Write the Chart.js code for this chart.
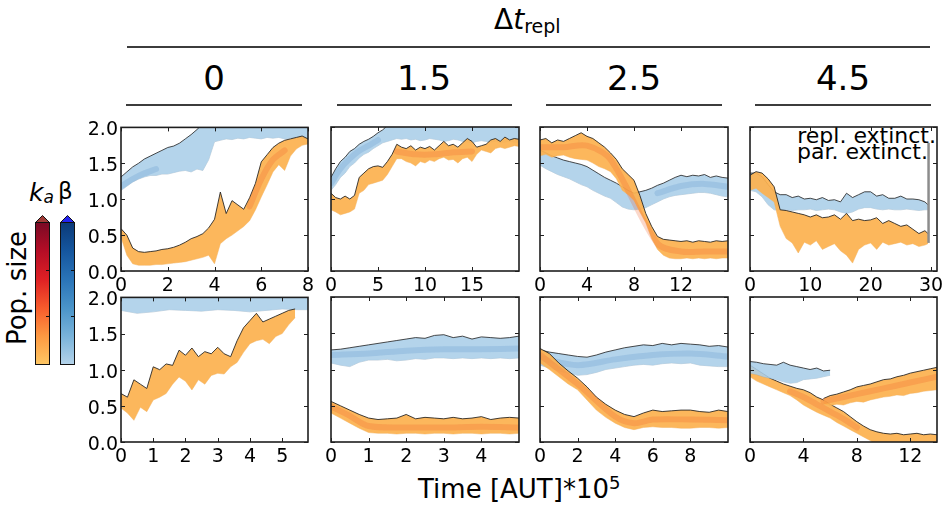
<!DOCTYPE html>
<html>
<head>
<meta charset="utf-8">
<script src="https://cdn.jsdelivr.net/npm/chart.js@4.4.0/dist/chart.umd.min.js"></script>
<style>
body { margin:0; background:#fff; width:948px; height:508px; position:relative; overflow:hidden; font-family:"DejaVu Sans", sans-serif; color:#000; }
.abs { position:absolute; white-space:nowrap; }
canvas { position:absolute; }
.hline { position:absolute; height:2px; background:#3c3c3c; }
</style>
</head>
<body>

<div class="abs" style="left:494px; top:6px; font-size:28px; line-height:28px;">Δ<i>t</i><span style="font-size:19px; position:relative; top:4px;">repl</span></div>
<div class="hline" style="left:127px; top:46px; width:803px;"></div>

<div class="abs" style="left:114px; top:61px; width:200px; text-align:center; font-size:34px; line-height:34px;">0</div>
<div class="abs" style="left:324px; top:61px; width:200px; text-align:center; font-size:34px; line-height:34px;">1.5</div>
<div class="abs" style="left:534px; top:61px; width:200px; text-align:center; font-size:34px; line-height:34px;">2.5</div>
<div class="abs" style="left:743px; top:61px; width:200px; text-align:center; font-size:34px; line-height:34px;">4.5</div>
<div class="hline" style="left:126px; top:104px; width:176px;"></div>
<div class="hline" style="left:337px; top:104px; width:175px;"></div>
<div class="hline" style="left:546px; top:104px; width:176px;"></div>
<div class="hline" style="left:755px; top:104px; width:176px;"></div>

<div class="abs" style="left:-83px; top:275px; width:200px; text-align:center; font-size:26px; line-height:26px; transform:rotate(-90deg);">Pop. size</div>

<div class="abs" style="left:29px; top:180px; font-size:25px; line-height:25px;"><i>k</i><span style="font-size:17px; position:relative; top:2px;"><i>a</i></span></div>
<div class="abs" style="left:58px; top:180px; font-size:23px; line-height:23px;">β</div>

<svg class="abs" style="left:0; top:0;" width="100" height="400">
  <defs>
    <linearGradient id="gka" x1="0" y1="0" x2="0" y2="1">
      <stop offset="0" stop-color="#7a0a25"/>
      <stop offset="0.2" stop-color="#b50d26"/>
      <stop offset="0.4" stop-color="#de2024"/>
      <stop offset="0.6" stop-color="#f75b2c"/>
      <stop offset="0.8" stop-color="#fd9942"/>
      <stop offset="1" stop-color="#fec764"/>
    </linearGradient>
    <linearGradient id="gbeta" x1="0" y1="0" x2="0" y2="1">
      <stop offset="0" stop-color="#0b3a78"/>
      <stop offset="0.2" stop-color="#15569e"/>
      <stop offset="0.4" stop-color="#2a74b8"/>
      <stop offset="0.6" stop-color="#4a94c9"/>
      <stop offset="0.8" stop-color="#79b3da"/>
      <stop offset="1" stop-color="#b4d3ea"/>
    </linearGradient>
  </defs>
  <rect x="35.5" y="222.5" width="14" height="142" fill="url(#gka)" stroke="#111" stroke-width="1"/>
  <polygon points="35.5,222.5 49.5,222.5 42.5,215.5" fill="#a23b36" stroke="#111" stroke-width="1"/>
  <rect x="60.5" y="222.5" width="14" height="142" fill="url(#gbeta)" stroke="#111" stroke-width="1"/>
  <polygon points="60.5,222.5 74.5,222.5 67.5,215.5" fill="#2424f0" stroke="#111" stroke-width="1"/>
  <line x1="46" y1="270.5" x2="49.5" y2="270.5" stroke="#111"/>
  <line x1="46" y1="316.5" x2="49.5" y2="316.5" stroke="#111"/>
  <line x1="71" y1="270.5" x2="74.5" y2="270.5" stroke="#111"/>
  <line x1="71" y1="316.5" x2="74.5" y2="316.5" stroke="#111"/>
</svg>

<div class="abs" style="left:418px; top:476px; font-size:26px; line-height:26px;">Time [AUT]*10<span style="font-size:18px; position:relative; top:-9px;">5</span></div>

<div class="abs" style="left:736px; top:125px; width:200px; text-align:right; font-size:22px; line-height:22px;">repl. extinct.</div>
<div class="abs" style="left:728px; top:141px; width:200px; text-align:right; font-size:22px; line-height:22px;">par. extinct.</div>

<script>
// ---- data (time in units of 1e5 AUT, population size) ----
const p1T = [0,0.25,0.5,0.75,1,1.25,1.5,1.75,2,2.25,2.5,2.75,3,3.25,3.5,3.75,4,4.25,4.5,4.75,5,5.25,5.5,5.75,6,6.25,6.5,6.75,7,7.25,7.5,7.75,8];
const p1BlueHi = [1.31,1.38,1.45,1.50,1.56,1.60,1.64,1.68,1.72,1.74,1.78,1.84,1.90,1.97,2.05,2.05,2.05,2.05,2.05,2.05,2.05,2.05,2.05,2.05,2.05,2.05,2.05,2.05,2.05,2.05,2.05,2.05,2.05];
const p1BlueLo = [1.12,1.18,1.24,1.28,1.31,1.33,1.33,1.35,1.35,1.37,1.39,1.40,1.38,1.42,1.40,1.55,1.80,1.82,1.84,1.83,1.85,1.84,1.86,1.85,1.84,1.86,1.85,1.86,1.84,1.85,1.86,1.85,1.84];
const p1BlueCoreT = [0,0.5,1,1.5];
const p1BlueCore = [1.18,1.28,1.36,1.42];
const p1OrangeHi = [0.59,0.50,0.32,0.27,0.26,0.27,0.28,0.30,0.31,0.33,0.36,0.40,0.45,0.48,0.52,0.60,0.72,1.10,0.80,0.98,0.92,0.86,1.02,1.22,1.52,1.62,1.72,1.78,1.82,1.84,1.86,1.88,1.84];
const p1OrangeLo = [0.47,0.22,0.10,0.08,0.08,0.08,0.09,0.09,0.10,0.11,0.12,0.13,0.15,0.17,0.19,0.22,0.10,0.38,0.45,0.50,0.56,0.62,0.70,0.85,1.03,1.20,1.38,1.48,1.40,1.60,1.70,1.75,1.77];
const p1OrangeCoreT = [5.5,6,6.5,7];
const p1OrangeCore = [0.90,1.28,1.55,1.68];

const p2T = [0,0.5,1,1.5,2,2.5,3,3.5,4,4.5,5,5.5,6,6.5,7,7.5,8,8.5,9,9.5,10,10.5,11,11.5,12,12.5,13,13.5,14,14.5,15,15.5,16,16.5,17,17.5,18,18.5,19,19.5,20];
const p2BlueHi = [1.30,1.42,1.52,1.58,1.66,1.70,1.76,1.80,1.83,1.87,1.92,1.96,2.02,2.05,2.05,2.05,2.05,2.05,2.05,2.05,2.05,2.05,2.05,2.05,2.05,2.05,2.05,2.05,2.05,2.05,2.05,2.05,2.05,2.05,2.05,2.05,2.05,2.05,2.05,2.05,2.05];
const p2BlueLo = [1.12,1.20,1.30,1.36,1.45,1.50,1.57,1.62,1.65,1.70,1.74,1.78,1.80,1.82,1.84,1.83,1.84,1.82,1.83,1.81,1.82,1.84,1.83,1.82,1.80,1.81,1.83,1.82,1.80,1.79,1.78,1.80,1.81,1.80,1.79,1.80,1.78,1.79,1.80,1.79,1.78];
const p2BlueCoreT = [0,1,2,3,4,5];
const p2BlueCore = [1.22,1.42,1.56,1.67,1.74,1.82];
const p2OrangeHi = [1.08,1.02,1.00,1.04,1.00,1.05,1.30,1.36,1.42,1.45,1.46,1.44,1.52,1.62,1.76,1.72,1.70,1.74,1.68,1.72,1.70,1.73,1.68,1.74,1.80,1.74,1.76,1.72,1.78,1.84,1.80,1.72,1.74,1.76,1.82,1.84,1.80,1.86,1.82,1.84,1.83];
const p2OrangeLo = [0.85,0.82,0.78,0.80,0.82,0.86,1.08,1.12,1.20,1.22,1.24,1.26,1.34,1.45,1.56,1.56,1.52,1.50,1.46,1.52,1.50,1.54,1.52,1.56,1.58,1.54,1.55,1.50,1.56,1.58,1.52,1.62,1.68,1.66,1.64,1.70,1.72,1.70,1.72,1.74,1.73];
const p2OrangeCoreT = [7,9,11,13,15];
const p2OrangeCore = [1.66,1.62,1.62,1.65,1.66];

const p3T = [0,0.5,1,1.5,2,2.5,3,3.5,4,4.5,5,5.5,6,6.5,7,7.5,8,8.5,9,9.5,10,10.5,11,11.5,12,12.5,13,13.5,14,14.5,15,15.5,16];
const p3BlueHi = [1.68,1.64,1.60,1.57,1.54,1.52,1.50,1.48,1.45,1.40,1.35,1.30,1.26,1.22,1.17,1.12,1.08,1.10,1.12,1.15,1.19,1.22,1.26,1.30,1.33,1.31,1.33,1.32,1.34,1.30,1.32,1.30,1.29];
const p3BlueLo = [1.47,1.42,1.38,1.34,1.31,1.28,1.24,1.20,1.17,1.12,1.08,1.04,1.01,0.95,0.89,0.86,0.85,0.86,0.88,0.92,0.96,1.00,1.03,1.05,1.06,1.07,1.08,1.09,1.09,1.08,1.06,1.04,1.03];
const p3BlueCoreT = [10,12,14,16];
const p3BlueCore = [1.08,1.18,1.21,1.17];
const p3OrangeHi = [1.82,1.84,1.78,1.82,1.80,1.84,1.88,1.92,1.87,1.84,1.78,1.72,1.64,1.55,1.42,1.34,1.26,1.05,0.80,0.62,0.48,0.44,0.43,0.42,0.41,0.42,0.40,0.42,0.41,0.40,0.42,0.41,0.42];
const p3OrangeLo = [1.60,1.62,1.58,1.60,1.61,1.58,1.56,1.55,1.54,1.50,1.45,1.42,1.38,1.28,1.12,1.06,0.98,0.82,0.67,0.45,0.30,0.22,0.18,0.17,0.17,0.18,0.17,0.18,0.17,0.18,0.17,0.18,0.18];
const p3OrangeCoreT = [0,2,4,6,10,12,14,16];
const p3OrangeCore = [1.72,1.72,1.74,1.55,0.38,0.27,0.27,0.27];

const p4T = [0,1,2,3,4,5,6,7,8,9,10,11,12,13,14,15,16,17,18,19,20,21,22,23,24,25,26,27,28,29,29.5];
const p4BlueHi = [1.36,1.36,1.31,1.20,1.10,1.06,1.06,1.02,1.04,1.00,1.01,0.99,1.02,0.98,0.99,0.96,1.08,1.02,1.06,1.10,1.10,1.04,1.06,1.01,1.01,1.04,1.00,1.00,0.99,0.96,0.92];
const p4BlueLo = [1.12,1.10,1.03,0.92,0.85,0.84,0.85,0.84,0.85,0.85,0.86,0.84,0.85,0.86,0.85,0.82,0.80,0.82,0.86,0.88,0.88,0.86,0.85,0.86,0.85,0.85,0.86,0.85,0.84,0.85,0.85];
const p4OrangeHi = [1.33,1.38,1.36,1.28,1.17,0.85,0.84,0.82,0.80,0.78,0.75,0.78,0.74,0.75,0.78,0.72,0.80,0.70,0.72,0.70,0.71,0.74,0.66,0.70,0.66,0.62,0.64,0.58,0.52,0.56,0.52];
const p4OrangeLo = [1.12,1.15,1.08,1.02,0.96,0.62,0.45,0.39,0.25,0.40,0.36,0.42,0.30,0.34,0.38,0.28,0.22,0.11,0.30,0.36,0.39,0.30,0.40,0.36,0.38,0.40,0.36,0.38,0.34,0.36,0.38];
const p4ExtinctT = [29.6,29.6];
const p4ExtinctY = [0.39,1.78];

const p5BlueT = [0,0.5,1,1.5,2,2.5,3,3.5,4,4.5,5,5.5,5.8];
const p5BlueHi = [2.05,2.05,2.05,2.05,2.05,2.05,2.05,2.05,2.05,2.05,2.05,2.05,2.05];
const p5BlueLo = [1.82,1.78,1.80,1.83,1.82,1.81,1.83,1.82,1.80,1.82,1.84,1.83,1.83];
const p5OrangeT = [0,0.2,0.4,0.6,0.8,1,1.2,1.4,1.6,1.8,2,2.2,2.4,2.6,2.8,3,3.2,3.4,3.6,3.8,4,4.2,4.4,4.6,4.8,5,5.2,5.4];
const p5OrangeHi = [0.67,0.62,0.86,0.80,0.74,1.04,1.00,1.08,1.06,1.27,1.20,1.30,1.18,1.25,1.22,1.31,1.22,1.18,1.40,1.58,1.68,1.78,1.66,1.70,1.74,1.78,1.82,1.84];
const p5OrangeLo = [0.47,0.40,0.30,0.48,0.42,0.58,0.62,0.67,0.80,0.90,0.84,0.72,0.86,0.80,0.92,0.95,0.94,1.04,1.10,1.24,1.36,1.40,1.42,1.36,1.46,1.50,1.62,1.72];

const p6T = [0,0.25,0.5,0.75,1,1.25,1.5,1.75,2,2.25,2.5,2.75,3,3.25,3.5,3.75,4,4.25,4.5,4.75,5];
const p6BlueHi = [1.27,1.28,1.30,1.32,1.34,1.36,1.38,1.40,1.42,1.44,1.43,1.47,1.48,1.44,1.46,1.42,1.45,1.44,1.43,1.44,1.46];
const p6BlueLo = [1.09,1.06,1.04,1.10,1.13,1.13,1.14,1.12,1.13,1.15,1.14,1.16,1.16,1.15,1.16,1.15,1.16,1.15,1.16,1.15,1.16];
const p6BlueCoreT = [0,1,2,3,4,5];
const p6BlueCore = [1.20,1.22,1.26,1.28,1.28,1.29];
const p6OrangeHi = [0.56,0.50,0.44,0.38,0.33,0.31,0.32,0.33,0.38,0.32,0.34,0.33,0.32,0.34,0.32,0.33,0.35,0.31,0.33,0.34,0.33];
const p6OrangeLo = [0.40,0.33,0.26,0.19,0.13,0.12,0.12,0.11,0.12,0.12,0.11,0.12,0.12,0.11,0.12,0.12,0.11,0.12,0.12,0.11,0.12];
const p6OrangeCoreT = [0,0.5,1,2,3,4,5];
const p6OrangeCore = [0.49,0.36,0.22,0.20,0.20,0.21,0.20];

const p7T = [0,0.5,1,1.5,2,2.5,3,3.5,4,4.5,5,5.5,6,6.5,7,7.5,8,8.5,9,9.5,10];
const p7BlueHi = [1.27,1.24,1.22,1.20,1.18,1.17,1.20,1.24,1.27,1.30,1.32,1.34,1.33,1.36,1.34,1.36,1.35,1.34,1.32,1.33,1.31];
const p7BlueLo = [1.06,1.02,0.98,0.95,0.92,0.93,0.96,1.00,1.02,1.04,1.06,1.07,1.06,1.08,1.09,1.08,1.09,1.06,1.05,1.04,1.04];
const p7BlueCoreT = [0,2,4,6,8,10];
const p7BlueCore = [1.16,1.06,1.14,1.20,1.22,1.18];
const p7OrangeHi = [1.29,1.22,1.09,0.98,0.88,0.76,0.62,0.52,0.44,0.38,0.35,0.40,0.44,0.42,0.43,0.44,0.44,0.42,0.41,0.44,0.42];
const p7OrangeLo = [1.09,1.00,0.90,0.80,0.72,0.58,0.44,0.34,0.26,0.20,0.17,0.20,0.21,0.20,0.20,0.19,0.19,0.20,0.20,0.19,0.20];
const p7OrangeCoreT = [0,2,4,5,6,8,10];
const p7OrangeCore = [1.20,0.80,0.35,0.26,0.31,0.31,0.30];

const p8BlueT = [0,0.5,1,1.5,2,2.5,3,3.5,4,4.5,5,5.5,6];
const p8BlueHi = [1.11,1.10,1.08,1.07,1.06,1.10,1.06,1.04,1.02,1.00,1.02,0.98,0.99];
const p8BlueLo = [0.95,0.93,0.90,0.88,0.86,0.83,0.81,0.82,0.86,0.87,0.88,0.90,0.92];
const p8OrangeT = [0,0.5,1,1.5,2,2.5,3,3.5,4,4.5,5,5.5,6,6.5,7,7.5,8,8.5,9,9.5,10,10.5,11,11.5,12,12.5,13,13.5,14];
const p8OrangeHi = [1.06,1.00,0.94,0.88,0.84,0.80,0.77,0.74,0.72,0.68,0.62,0.58,0.52,0.47,0.42,0.35,0.28,0.22,0.17,0.14,0.12,0.11,0.12,0.10,0.11,0.12,0.10,0.11,0.10];
const p8OrangeLo = [0.90,0.84,0.80,0.76,0.72,0.68,0.64,0.58,0.51,0.46,0.41,0.37,0.33,0.27,0.22,0.17,0.12,0.07,0.02,-0.05,-0.05,-0.05,-0.05,-0.05,-0.05,-0.05,-0.05,-0.05,-0.05];
const p8OrangeCoreT = [3,4,5,6,7,8];
const p8OrangeCore = [0.70,0.62,0.52,0.42,0.32,0.20];
const p8SplitT = [5.5,6,6.5,7,7.5,8,8.5,9,9.5,10,10.5,11,11.5,12,12.5,13,13.5,14];
const p8SplitHi = [0.60,0.64,0.66,0.69,0.72,0.76,0.78,0.80,0.83,0.86,0.87,0.90,0.92,0.95,0.97,0.99,1.01,1.03];
const p8SplitLo = [0.52,0.50,0.52,0.51,0.54,0.56,0.55,0.58,0.60,0.62,0.63,0.65,0.64,0.67,0.68,0.70,0.71,0.72];
const p8SplitCoreT = [5.5,8,10,12,14];
const p8SplitCore = [0.56,0.66,0.74,0.82,0.90];

// tick labels
const yTicks = [0, 0.5, 1, 1.5, 2];
const xTicks = [[0,2,4,6,8],[0,5,10,15],[0,4,8,12],[0,10,20,30],[0,1,2,3,4,5],[0,1,2,3,4],[0,2,4,6,8],[0,4,8,12]];
const xMax = [8, 20, 16, 31, 5.8, 5, 10, 14];

// ---- layout ----
const PAD_L = 52, PAD_R = 16, PAD_T = 14, PAD_B = 32;
const colLeft = [121, 331, 540, 750];
const colWidth = [187, 188, 188, 187];
const rowTop = [127, 297];
const rowHeight = [144, 145];

const STYLE = {
  blue:   { fill: 'rgba(170,206,232,0.88)', edge: 'rgba(30,30,30,0.8)', fringe: 'rgba(140,165,185,0.45)', core: 'rgba(96,152,205,0.26)' },
  orange: { fill: 'rgba(252,178,80,0.93)', edge: 'rgba(30,30,30,0.85)', fringe: 'rgba(235,180,110,0.5)', core: 'rgba(238,92,38,0.24)' }
};

Chart.defaults.font.family = '"DejaVu Sans", sans-serif';
Chart.defaults.font.size = 19;
Chart.defaults.color = '#000';

const frameTicks = {
  id: 'frameTicks',
  afterDraw(chart) {
    const {ctx, chartArea: a, scales: {x, y}} = chart;
    ctx.save();
    ctx.strokeStyle = '#1e1e1e';
    ctx.lineWidth = 1;
    x.ticks.forEach(t => {
      const px = Math.round(x.getPixelForValue(t.value)) + 0.5;
      ctx.beginPath();
      ctx.moveTo(px, a.bottom); ctx.lineTo(px, a.bottom - 4);
      ctx.moveTo(px, a.top); ctx.lineTo(px, a.top + 4);
      ctx.stroke();
    });
    y.ticks.forEach(t => {
      const py = Math.round(y.getPixelForValue(t.value)) + 0.5;
      ctx.beginPath();
      ctx.moveTo(a.left, py); ctx.lineTo(a.left + 4, py);
      ctx.moveTo(a.right, py); ctx.lineTo(a.right - 4, py);
      ctx.stroke();
    });
    ctx.lineWidth = 1.6;
    ctx.strokeRect(a.left, a.top, a.right - a.left, a.bottom - a.top);
    ctx.restore();
  }
};

const band = (kind, t, hi, lo, coreT, core) => ({kind, t, hi, lo, coreT, core});

const panels = [
  { col: 0, row: 0, bands: [band('orange', p1T, p1OrangeHi, p1OrangeLo, p1OrangeCoreT, p1OrangeCore),
                            band('blue', p1T, p1BlueHi, p1BlueLo, p1BlueCoreT, p1BlueCore)] },
  { col: 1, row: 0, bands: [band('orange', p2T, p2OrangeHi, p2OrangeLo, p2OrangeCoreT, p2OrangeCore),
                            band('blue', p2T, p2BlueHi, p2BlueLo, p2BlueCoreT, p2BlueCore)] },
  { col: 2, row: 0, bands: [band('orange', p3T, p3OrangeHi, p3OrangeLo, p3OrangeCoreT, p3OrangeCore),
                            band('blue', p3T, p3BlueHi, p3BlueLo, p3BlueCoreT, p3BlueCore)] },
  { col: 3, row: 0, bands: [band('orange', p4T, p4OrangeHi, p4OrangeLo), band('blue', p4T, p4BlueHi, p4BlueLo)],
    marker: {t: p4ExtinctT, y: p4ExtinctY} },
  { col: 0, row: 1, bands: [band('orange', p5OrangeT, p5OrangeHi, p5OrangeLo), band('blue', p5BlueT, p5BlueHi, p5BlueLo)] },
  { col: 1, row: 1, bands: [band('orange', p6T, p6OrangeHi, p6OrangeLo, p6OrangeCoreT, p6OrangeCore),
                            band('blue', p6T, p6BlueHi, p6BlueLo, p6BlueCoreT, p6BlueCore)] },
  { col: 2, row: 1, bands: [band('orange', p7T, p7OrangeHi, p7OrangeLo, p7OrangeCoreT, p7OrangeCore),
                            band('blue', p7T, p7BlueHi, p7BlueLo, p7BlueCoreT, p7BlueCore)] },
  { col: 3, row: 1, bands: [band('blue', p8BlueT, p8BlueHi, p8BlueLo),
                            band('orange', p8SplitT, p8SplitHi, p8SplitLo, p8SplitCoreT, p8SplitCore),
                            band('orange', p8OrangeT, p8OrangeHi, p8OrangeLo, p8OrangeCoreT, p8OrangeCore)] }
];

makePanel = (p, idx) => {
  const w = colWidth[p.col], h = rowHeight[p.row];
  const cv = document.createElement('canvas');
  cv.width = w + PAD_L + PAD_R;
  cv.height = h + PAD_T + PAD_B;
  cv.style.left = (colLeft[p.col] - PAD_L) + 'px';
  cv.style.top = (rowTop[p.row] - PAD_T) + 'px';
  document.body.appendChild(cv);

  let datasets = [];
  if (p.marker) {
    datasets.push({
      data: p.marker.t.map((t, i) => ({x: t, y: p.marker.y[i]})),
      borderColor: '#8c8c8c', borderWidth: 2.5, pointRadius: 0, fill: false, clip: 0
    });
  }
  p.bands.forEach(b => {
    const st = STYLE[b.kind];
    if (b.core) {
      datasets.push({
        data: b.coreT.map((t, i) => ({x: t, y: b.core[i]})),
        borderColor: st.core, borderWidth: 6, borderCapStyle: 'round', fill: false, pointRadius: 0, tension: 0.3, clip: 0
      });
    }
    datasets.push({
      data: b.t.map((t, i) => ({x: t, y: b.hi[i]})),
      borderColor: st.edge, borderWidth: 1, backgroundColor: st.fill,
      fill: '+1', pointRadius: 0, tension: 0, clip: 0
    });
    datasets.push({
      data: b.t.map((t, i) => ({x: t, y: b.lo[i]})),
      borderColor: st.fringe, borderWidth: 1,
      fill: false, pointRadius: 0, tension: 0, clip: 0
    });
  });

  return new Chart(cv.getContext('2d'), {
    type: 'line',
    data: { datasets: datasets },
    options: {
      responsive: false,
      animation: false,
      devicePixelRatio: 1,
      events: [],
      layout: { autoPadding: false, padding: { left: 0, top: PAD_T, right: PAD_R, bottom: 0 } },
      plugins: { legend: { display: false }, tooltip: { enabled: false } },
      scales: {
        x: {
          type: 'linear', min: 0, max: xMax[idx],
          grid: { display: false, drawTicks: false },
          border: { display: false },
          afterBuildTicks: s => { s.ticks = xTicks[idx].map(v => ({value: v})); },
          afterFit: s => { s.height = PAD_B; },
          ticks: { autoSkip: false, maxRotation: 0, padding: 4, callback: v => String(v) }
        },
        y: {
          min: 0, max: 2,
          grid: { display: false, drawTicks: false },
          border: { display: false },
          afterBuildTicks: s => { s.ticks = yTicks.map(v => ({value: v})); },
          afterFit: s => { s.width = PAD_L; },
          ticks: { display: p.col === 0, padding: 3, labelOffset: 3, callback: v => v.toFixed(1) }
        }
      }
    },
    plugins: [frameTicks]
  });
}

panels.forEach((p, i) => makePanel(p, i));
</script>
</body>
</html>
